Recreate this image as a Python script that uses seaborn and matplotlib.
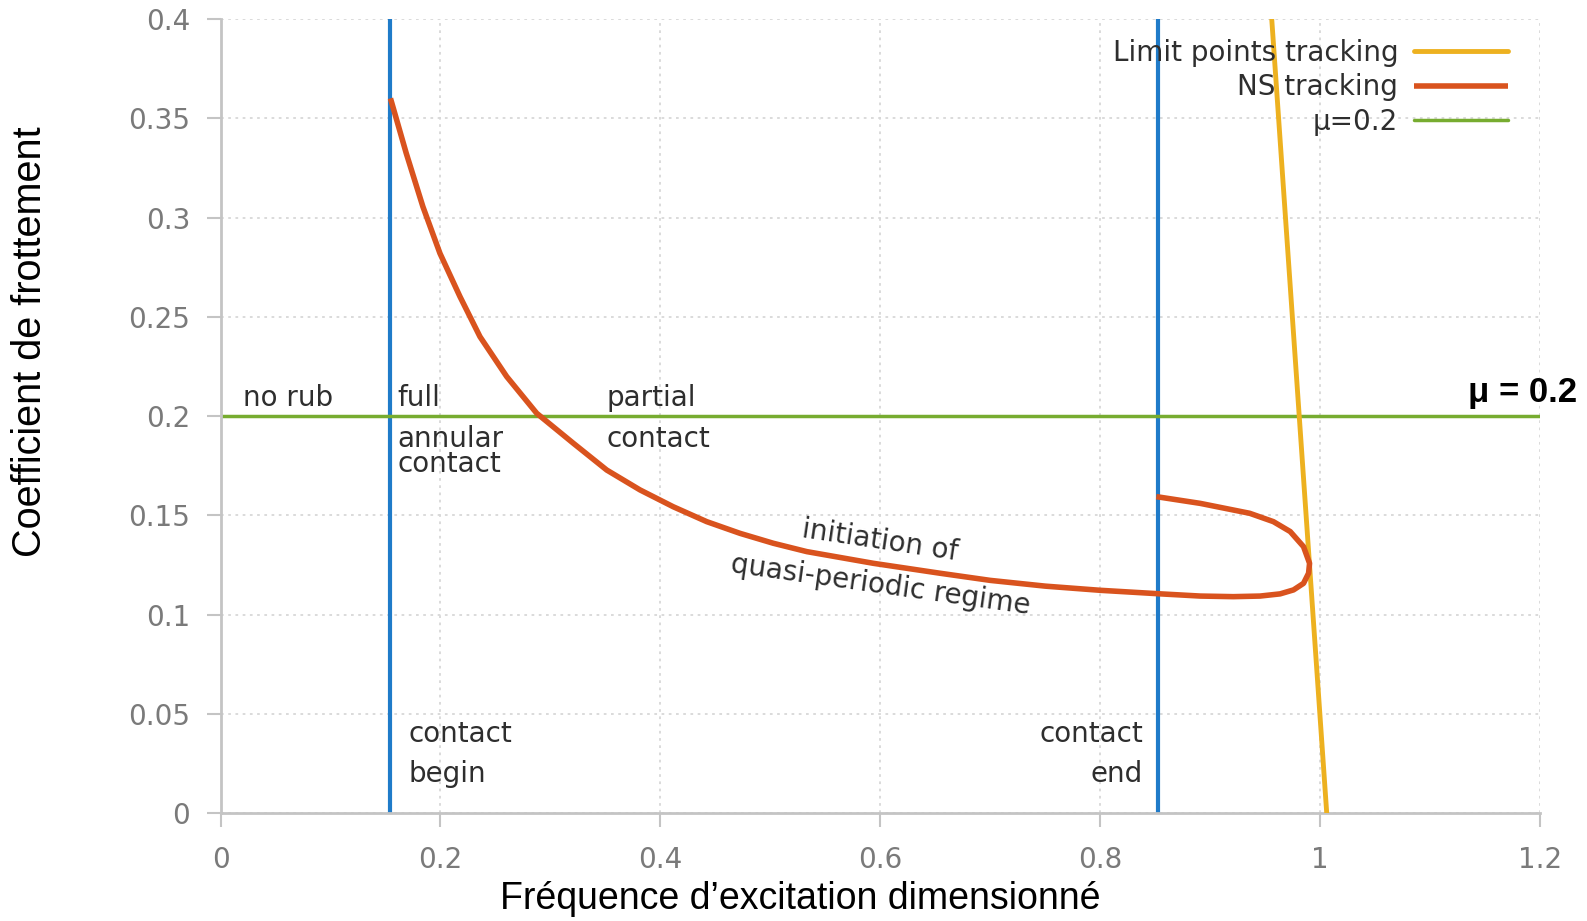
import numpy as np
import pandas as pd
import seaborn as sns
import matplotlib
matplotlib.use("Agg")
import matplotlib.pyplot as plt

# NS tracking curve
ns_freq = [0.1545, 0.1688, 0.1840, 0.1995, 0.2177, 0.2359, 0.2602, 0.2875, 0.3208,
           0.3512, 0.3814, 0.4117, 0.4421, 0.4724, 0.5027, 0.5331, 0.5937, 0.6543,
           0.700, 0.750, 0.800, 0.855, 0.891, 0.921, 0.9454, 0.9636, 0.9758, 0.9849,
           0.9895, 0.9904, 0.9849, 0.9728, 0.9575, 0.936, 0.891, 0.851]
ns_mu = [0.3601, 0.3325, 0.3055, 0.2820, 0.2602, 0.2400, 0.2199, 0.2014, 0.1863,
         0.1728, 0.1628, 0.1543, 0.1468, 0.1409, 0.1359, 0.1317, 0.1258, 0.1208,
         0.1172, 0.1143, 0.1122, 0.1104, 0.1093, 0.1090, 0.1093, 0.1104, 0.1124, 0.1157,
         0.1208, 0.1258, 0.1342, 0.1418, 0.1468, 0.1510, 0.1560, 0.1594]

# limit points tracking line
lp_freq = [0.956, 1.006]
lp_mu = [0.4, 0.0]

mu_ref = 0.2
contact_begin = 0.154
contact_end = 0.853

xticks = [0, 0.2, 0.4, 0.6, 0.8, 1.0, 1.2]
xticklabels = ["0", "0.2", "0.4", "0.6", "0.8", "1", "1.2"]
yticks = [0, 0.05, 0.1, 0.15, 0.2, 0.25, 0.3, 0.35, 0.4]
yticklabels = ["0", "0.05", "0.1", "0.15", "0.2", "0.25", "0.3", "0.35", "0.4"]

c_blue = "#1f7bc9"
c_red = "#d9531e"
c_yellow = "#edb120"
c_green = "#77ac30"
c_text = "#2e2e2e"

sns.set_theme(style="white")
plt.rcParams['font.family'] = ['DejaVu Sans']

fig = plt.figure(figsize=(15.87, 9.21), dpi=100)
ax = fig.add_axes([0.1390, 0.1173, 0.8314, 0.8619])

# grid
ax.grid(True, linestyle=(0, (1.5, 2.5)), color="#d8d8d8", linewidth=1.3)
ax.set_axisbelow(True)

ax.axvline(contact_begin, color=c_blue, lw=3, zorder=2)
ax.axvline(contact_end, color=c_blue, lw=3, zorder=2)

lp_df = pd.DataFrame({"f": lp_freq, "mu": lp_mu})
ns_df = pd.DataFrame({"f": ns_freq, "mu": ns_mu})
sns.lineplot(data=lp_df, x="f", y="mu", sort=False, estimator=None, color=c_yellow,
             lw=3.5, ax=ax, label="Limit points tracking", zorder=3)
sns.lineplot(data=ns_df, x="f", y="mu", sort=False, estimator=None, color=c_red,
             lw=4, ax=ax, label="NS tracking", zorder=3, solid_capstyle="butt",
             solid_joinstyle="round")
ax.axhline(mu_ref, color=c_green, lw=2.5, label="\u03bc=0.2", zorder=2)

ax.set_xlim(0, 1.2)
ax.set_ylim(0, 0.4)
ax.set_xticks(xticks)
ax.set_xticklabels(xticklabels)
ax.set_yticks(yticks)
ax.set_yticklabels(yticklabels)
ax.tick_params(axis="both", colors="#c4c4c4", length=10, width=1.5, labelsize=20,
               labelcolor="#7a7a7a")
ax.tick_params(axis="x", pad=14)
ax.tick_params(axis="y", pad=12)
ax.tick_params(left=True, bottom=True)

for s in ["top", "right"]:
    ax.spines[s].set_visible(False)
for s in ["left", "bottom"]:
    ax.spines[s].set_color("#c4c4c4")
    ax.spines[s].set_linewidth(2)

ax.set_xlabel("Fréquence d\u2019excitation dimensionné", fontsize=27,
              family=["Liberation Sans"], color="black", va="center")
ax.xaxis.set_label_coords(0.4391, -0.1083)
ax.set_ylabel("Coefficient de frottement", fontsize=28.5,
              family=["Liberation Sans"], color="black", va="center")
ax.yaxis.set_label_coords(-0.1445, 0.5935)

leg = ax.legend(loc="upper right", bbox_to_anchor=(0.9757, 0.9755), frameon=False,
                markerfirst=False, fontsize=20, handlelength=3.4, handletextpad=0.55,
                labelspacing=0.24, borderpad=0, borderaxespad=0)
for t in leg.get_texts():
    t.set_color(c_text)

# region annotations
fs = 20
ax.text(0.020, 0.205, "no rub", fontsize=fs, color=c_text, va="baseline")
ax.text(0.1605, 0.205, "full", fontsize=fs, color=c_text, va="baseline")
ax.text(0.1605, 0.1844, "annular", fontsize=fs, color=c_text, va="baseline")
ax.text(0.1605, 0.1718, "contact", fontsize=fs, color=c_text, va="baseline")
ax.text(0.3513, 0.205, "partial", fontsize=fs, color=c_text, va="baseline")
ax.text(0.3513, 0.1844, "contact", fontsize=fs, color=c_text, va="baseline")
ax.text(0.171, 0.0398, "contact", fontsize=fs, color=c_text, va="center")
ax.text(0.171, 0.0197, "begin", fontsize=fs, color=c_text, va="center")
ax.text(0.839, 0.0398, "contact", fontsize=fs, color=c_text, va="center", ha="right")
ax.text(0.839, 0.0197, "end", fontsize=fs, color=c_text, va="center", ha="right")
ax.text(0.600, 0.137, "initiation of", fontsize=fs, color=c_text, ha="center",
        va="center", rotation=-8.5, rotation_mode="anchor")
ax.text(0.600, 0.1149, "quasi-periodic regime", fontsize=fs, color=c_text, ha="center",
        va="center", rotation=-8.0, rotation_mode="anchor")

ax.text(1.2336, 0.212, "\u03bc = 0.2", fontsize=25, fontweight="bold", color="black",
        family=["Liberation Sans"], ha="right", va="center", clip_on=False)

fig.savefig("out.png", dpi=100)
